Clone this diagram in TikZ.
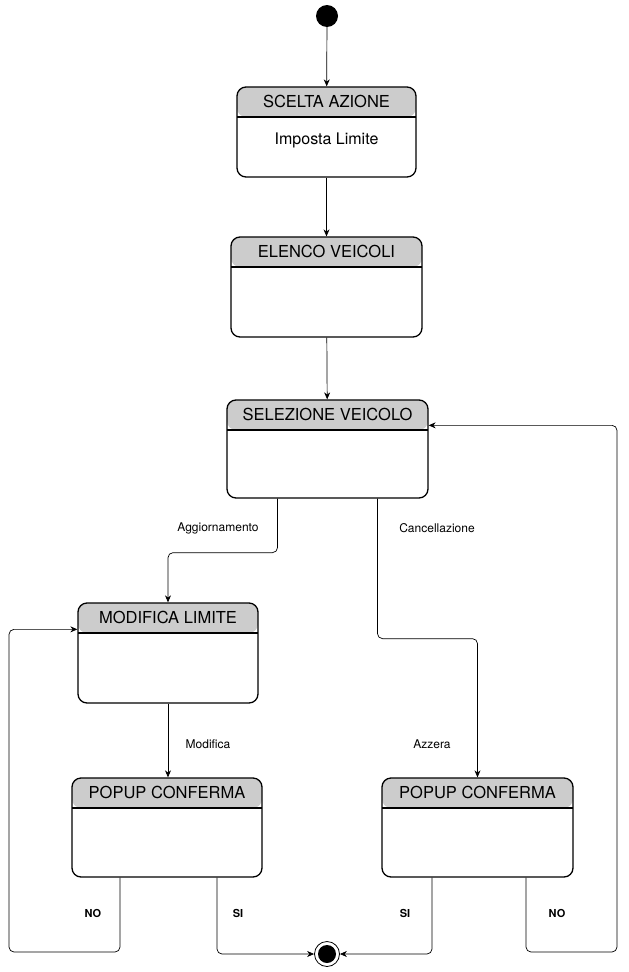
\documentclass[tikz,border=0pt]{standalone}
\usepackage{fontspec}
\setmainfont{TeX Gyre Heros}
\usetikzlibrary{arrows.meta}

\begin{document}
\begin{tikzpicture}[x=1pt,y=-1pt,
        state/.style={draw,line width=1.3pt,rounded corners=9pt,inner sep=0pt,
            label={[hdr]north:#1},
            path picture={
                \fill[black!20] (path picture bounding box.north west) rectangle ([yshift=-30pt]path picture bounding box.north east);
                \draw[line width=1.3pt] ([yshift=-30pt]path picture bounding box.north west) -- ([yshift=-30pt]path picture bounding box.north east);}},
        hdr/.style={anchor=center,yshift=-15pt,font=\fontsize{16.5}{19}\selectfont},
        edge/.style={-{Stealth[length=7pt,width=6pt]},line width=0.7pt,rounded corners=5pt},
        lbl/.style={font=\fontsize{12}{14}\selectfont},
        yn/.style={font=\fontsize{11}{13}\selectfont\bfseries}]
    \useasboundingbox (0,0) rectangle (629,972);
    \node[circle,fill,minimum size=22pt,inner sep=0pt] (start) at (327,16) {};
    \node[state=SCELTA AZIONE,minimum width=179pt,minimum height=90pt,
        label={[yshift=-8pt,font=\fontsize{16}{19}\selectfont]center:Imposta Limite}] (sa) at (326.5,132) {};
    \node[state=ELENCO VEICOLI,minimum width=191pt,minimum height=100pt] (ev) at (326.5,287) {};
    \node[state=SELEZIONE VEICOLO,minimum width=201pt,minimum height=98pt] (sv) at (327.5,449) {};
    \node[state=MODIFICA LIMITE,minimum width=180pt,minimum height=100pt] (ml) at (168,653) {};
    \node[state=POPUP CONFERMA,minimum width=190pt,minimum height=99pt] (pl) at (167,827.5) {};
    \node[state=POPUP CONFERMA,minimum width=191pt,minimum height=99pt] (pr) at (477.5,827.5) {};
    \node[circle,draw,line width=0.8pt,minimum size=25pt,inner sep=0pt,
        path picture={\fill (path picture bounding box.center) circle (9pt);}] (end) at (327,954) {};
    \coordinate (loopL) at (9,952);
    \coordinate (loopR) at (617,952);

    \draw[edge] (start) -- (sa);
    \draw[edge] (sa) -- (ev);
    \draw[edge] (ev) -- (sv);
    \draw[edge] ([xshift=-50pt]sv.south) -- ++(0,54) -| (ml.north);
    \draw[edge] ([xshift=50pt]sv.south) -- ++(0,140) -| (pr.north);
    \draw[edge] (ml.south) -- (ml.south |- pl.north);
    \draw[edge] ([xshift=-47pt]pl.south) |- (loopL) |- ([yshift=-27pt]ml.north west);
    \draw[edge] ([xshift=50pt]pl.south) |- (end.west);
    \draw[edge] ([xshift=-45.5pt]pr.south) |- (end.east);
    \draw[edge] ([xshift=48.5pt]pr.south) |- (loopR) |- ([yshift=-26pt]sv.north east);

    \node[lbl] (agg) at (218,528) {Aggiornamento};
    \node[lbl] (canc) at (437,528) {Cancellazione};
    \node[lbl] (mod) at (208,744) {Modifica};
    \node[lbl] (azz) at (432,744) {Azzera};
    \node[yn] (noL) at (93,913) {NO};
    \node[yn] (siL) at (238,913) {SI};
    \node[yn] (siR) at (405,913) {SI};
    \node[yn] (noR) at (557,913) {NO};
\end{tikzpicture}
\end{document}
